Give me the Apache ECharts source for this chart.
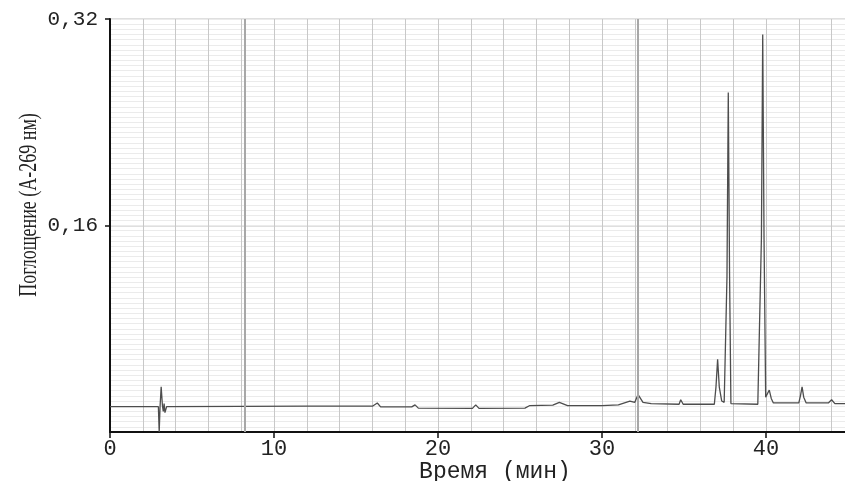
<!DOCTYPE html>
<html>
<head>
<meta charset="utf-8">
<script src="https://cdn.jsdelivr.net/npm/echarts@6/dist/echarts.min.js"></script>
<style>
  html, body { margin: 0; padding: 0; background: #fff; }
  #chart { width: 845px; height: 481px; }
</style>
</head>
<body>
<div id="chart"></div>
<script>
// время (мин) и поглощение
var times = [0, 2.95, 3.0, 3.05, 3.12, 3.2, 3.25, 3.3, 3.35, 3.45, 8, 12, 16.0, 16.3, 16.5,
    18.4, 18.6, 18.8, 22.1, 22.3, 22.5, 25.3, 25.6, 27.0, 27.4, 27.9, 30.0, 31.0, 31.7,
    32.0, 32.2, 32.5, 33.0, 34.7, 34.8, 34.95, 36.85, 36.95, 37.05, 37.15, 37.3, 37.45,
    37.55, 37.62, 37.7, 37.78, 37.86, 37.95, 39.5, 39.6, 39.72, 39.8, 39.88, 39.98, 40.05,
    40.2, 40.32, 40.45, 42.0, 42.1, 42.2, 42.3, 42.45, 43.8, 44.0, 44.2, 45];
var absorb = [0.0196, 0.0196, 0.0, 0.019, 0.035, 0.02, 0.016, 0.022, 0.015, 0.0196, 0.0198, 0.020, 0.020, 0.0225, 0.0195,
    0.0195, 0.021, 0.0185, 0.0183, 0.021, 0.0183, 0.0185, 0.0205, 0.0208, 0.023, 0.0205, 0.0205, 0.021, 0.024,
    0.023, 0.029, 0.023, 0.022, 0.0215, 0.025, 0.0215, 0.0215, 0.035, 0.0563, 0.035, 0.024, 0.023,
    0.022, 0.12, 0.263, 0.12, 0.022, 0.0215, 0.0215, 0.022, 0.15, 0.308, 0.15, 0.027, 0.026,
    0.0325, 0.026, 0.0225, 0.0225, 0.028, 0.035, 0.027, 0.0225, 0.0225, 0.025, 0.022, 0.022];
var xTicks = [0, 10, 20, 30, 40];
var yTicks = [0.16, 0.32];
var paperDark = [8.2, 32.2]; // тёмные линии бумаги
var xTitle = 'Время (мин)';
var yTitle = 'Поглощение (А-269 нм)';

var points = times.map(function(t, i) { return [t, absorb[i]]; });

var chart = echarts.init(document.getElementById('chart'));
chart.setOption({
    animation: false,
    backgroundColor: '#fff',
    grid: { left: 110, right: -3, top: 19, bottom: 49, outerBoundsMode: 'none', containLabel: false },
    xAxis: [{
        type: 'value',
        min: 0,
        max: 45,
        interval: 10,
        axisLine: { onZero: false, lineStyle: { color: '#111', width: 2 } },
        axisTick: { show: true, length: 6, lineStyle: { color: '#111', width: 1.5 } },
        axisLabel: {
            showMaxLabel: false,
            margin: 6,
            fontFamily: 'Liberation Mono',
            fontSize: 22,
            color: '#222'
        },
        splitLine: { show: false }
    }, {
        // сетка бумаги, вертикальные
        type: 'value',
        min: 0,
        max: 45,
        interval: 2,
        axisLine: { show: false },
        axisTick: { show: false },
        axisLabel: { show: false },
        splitLine: { show: true, lineStyle: { color: '#c8c8c8', width: 1 } }
    }],
    yAxis: [{
        type: 'value',
        min: 0,
        max: 0.32,
        interval: 0.16,
        axisLine: { show: true, onZero: false, lineStyle: { color: '#111', width: 2 } },
        axisTick: { show: true, length: 5, lineStyle: { color: '#111', width: 1.5 } },
        axisLabel: {
            showMinLabel: false,
            margin: 12,
            fontFamily: 'Liberation Mono',
            fontSize: 21,
            color: '#222',
            formatter: function(v) { return v.toFixed(2).replace('.', ','); }
        },
        splitLine: { show: true, lineStyle: { color: '#d4d4d4', width: 1.5 } }
    }, {
        // сетка бумаги, горизонтальные
        type: 'value',
        min: 0,
        max: 0.32,
        interval: 0.004,
        axisLine: { show: false },
        axisTick: { show: false },
        axisLabel: { show: false },
        splitLine: { show: true, lineStyle: { color: '#ebebeb', width: 1 } }
    }],
    graphic: [{
        type: 'text',
        x: 29,
        y: 205,
        rotation: Math.PI / 2,
        scaleX: 0.72,
        style: {
            text: yTitle,
            font: '25px "Liberation Serif"',
            fill: '#222',
            align: 'center',
            verticalAlign: 'middle'
        }
    }, {
        type: 'text',
        x: 495,
        y: 472,
        style: {
            text: xTitle,
            font: '23px "Liberation Mono"',
            fill: '#222',
            align: 'center',
            verticalAlign: 'middle'
        }
    }],
    series: [{
        type: 'line',
        data: points,
        showSymbol: false,
        xAxisIndex: 0,
        yAxisIndex: 0,
        lineStyle: { color: '#4d4d4d', width: 1.3 },
        markLine: {
            silent: true,
            symbol: 'none',
            label: { show: false },
            lineStyle: { color: '#a8a8a8', width: 2, type: 'solid' },
            data: paperDark.map(function(t) { return { xAxis: t }; })
        }
    }]
});
</script>
</body>
</html>
